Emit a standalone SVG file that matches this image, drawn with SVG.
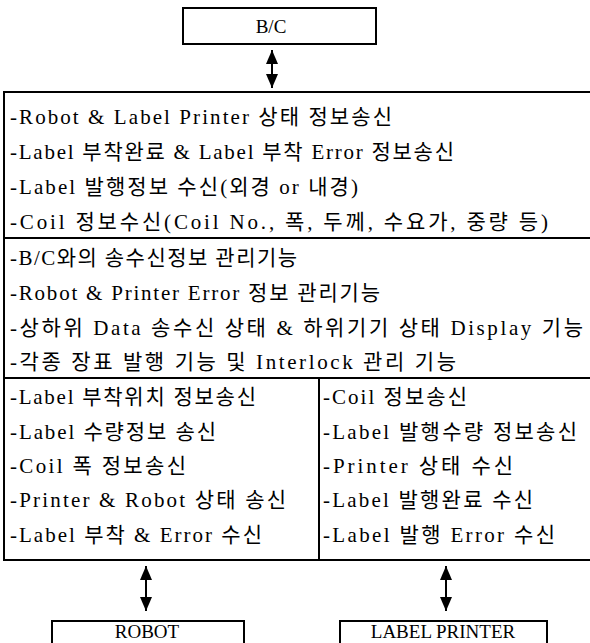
<svg xmlns="http://www.w3.org/2000/svg" width="590" height="643" viewBox="0 0 590 643">
<style>
.box{fill:#fff;stroke:#000;stroke-width:2}
.div{stroke:#000;stroke-width:2;fill:none}
.t{font-family:"Liberation Serif","Noto Sans CJK KR",serif;font-size:21px;fill:#000}
.lbl{font-family:"Liberation Serif","Noto Sans CJK KR",serif;font-size:19px;fill:#000;text-anchor:middle}
.arr{stroke:#000;stroke-width:2;fill:none;marker-start:url(#ah);marker-end:url(#ah)}
</style>
<defs>
<marker id="ah" viewBox="0 0 14 12" refX="14" refY="6" markerWidth="7" markerHeight="6" orient="auto-start-reverse" markerUnits="strokeWidth">
<path d="M0,0 L14,6 L0,12 Z" fill="#000"/>
</marker>
</defs>
<g id="connectors">
<line class="arr" x1="272" y1="50" x2="272" y2="88"/>
<line class="arr" x1="146" y1="566" x2="146" y2="611"/>
<line class="arr" x1="446" y1="566" x2="446" y2="611"/>
</g>
<g id="bc">
<rect class="box" x="183" y="8" width="193" height="36"/>
<text class="lbl" x="271" y="33">B/C</text>
</g>
<g id="main">
<path class="div" d="M592,92 H4 V560 H592"/>
<line class="div" x1="4" y1="238" x2="592" y2="238"/>
<line class="div" x1="4" y1="378" x2="592" y2="378"/>
<line class="div" x1="319" y1="378" x2="319" y2="560"/>
<text class="t" x="10" y="124" textLength="382">-Robot &amp; Label Printer 상태 정보송신</text>
<text class="t" x="10" y="159" textLength="444">-Label 부착완료 &amp; Label 부착 Error 정보송신</text>
<text class="t" x="10" y="194" textLength="348">-Label 발행정보 수신(외경 or 내경)</text>
<text class="t" x="10" y="229" textLength="538">-Coil 정보수신(Coil No., 폭, 두께, 수요가, 중량 등)</text>
<text class="t" x="10" y="265" textLength="287">-B/C와의 송수신정보 관리기능</text>
<text class="t" x="10" y="300" textLength="370">-Robot &amp; Printer Error 정보 관리기능</text>
<text class="t" x="10" y="335" textLength="573">-상하위 Data 송수신 상태 &amp; 하위기기 상태 Display 기능</text>
<text class="t" x="10" y="369" textLength="446">-각종 장표 발행 기능 및 Interlock 관리 기능</text>
<text class="t" x="10" y="404" textLength="246">-Label 부착위치 정보송신</text>
<text class="t" x="10" y="439" textLength="206">-Label 수량정보 송신</text>
<text class="t" x="10" y="473" textLength="176">-Coil 폭 정보송신</text>
<text class="t" x="10" y="507" textLength="276">-Printer &amp; Robot 상태 송신</text>
<text class="t" x="10" y="542" textLength="252">-Label 부착 &amp; Error 수신</text>
<text class="t" x="323" y="404" textLength="144">-Coil 정보송신</text>
<text class="t" x="323" y="439" textLength="254">-Label 발행수량 정보송신</text>
<text class="t" x="323" y="473" textLength="190">-Printer 상태 수신</text>
<text class="t" x="323" y="507" textLength="210">-Label 발행완료 수신</text>
<text class="t" x="323" y="542" textLength="232">-Label 발행 Error 수신</text>
</g>
<g id="robot">
<rect class="box" x="52" y="621" width="192" height="40"/>
<text class="lbl" x="147" y="638">ROBOT</text>
</g>
<g id="printer">
<rect class="box" x="340" y="621" width="207" height="40"/>
<text class="lbl" x="443" y="638">LABEL PRINTER</text>
</g>
</svg>
